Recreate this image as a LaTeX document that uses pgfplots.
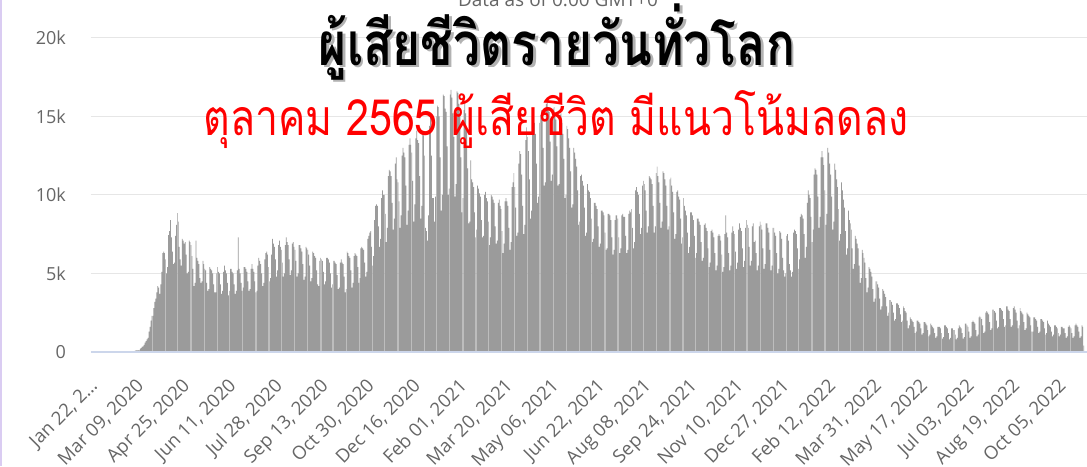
\documentclass[border=0pt]{standalone}
\usepackage{pgfplots}
\usepackage{pgfplotstable}
\pgfplotsset{compat=1.18}
\usepackage{fontspec}
\setmainfont{Open Sans}
\newfontfamily\thaifont[Script=Thai]{Loma}
\definecolor{barc}{RGB}{155,155,155}
\definecolor{tickc}{RGB}{102,102,102}
\definecolor{gridc}{RGB}{230,230,230}
\definecolor{basec}{RGB}{204,214,235}
\definecolor{edgec}{RGB}{218,204,242}
\pgfplotstableread[row sep=\\, header=false]{
17\\1\\8\\16\\14\\26\\30\\
20\\20\\25\\25\\25\\30\\30\\
30\\30\\30\\35\\35\\35\\35\\
40\\40\\40\\40\\35\\35\\40\\
40\\40\\40\\35\\35\\35\\35\\
35\\35\\35\\40\\40\\45\\55\\
90\\100\\110\\100\\120\\200\\250\\
330\\360\\450\\600\\700\\800\\900\\
1300\\1600\\2000\\2300\\2300\\2800\\3200\\
3400\\3800\\4200\\4100\\3700\\4300\\5100\\
6300\\6400\\6300\\5900\\5000\\5400\\7450\\
7700\\8400\\7300\\6400\\5600\\5700\\7400\\
8100\\8850\\8300\\6700\\5900\\5500\\7200\\
7100\\6900\\7000\\6200\\5000\\5100\\7100\\
7000\\6800\\6100\\5300\\4200\\4400\\7100\\
6000\\5800\\5600\\4700\\4400\\4500\\5800\\
5600\\5300\\5200\\4400\\3900\\4000\\5400\\
5300\\5200\\5000\\4300\\3800\\3800\\5000\\
5400\\5100\\5000\\4300\\3700\\3900\\5100\\
5500\\5200\\5000\\4400\\3600\\3900\\5300\\
5300\\5100\\5000\\4300\\3700\\3900\\5200\\
7300\\5300\\5000\\4400\\3900\\4100\\5400\\
5400\\5300\\5100\\4500\\3900\\4000\\5300\\
5600\\5300\\5100\\4500\\3800\\3900\\5500\\
6000\\5800\\5600\\5000\\4200\\4400\\5900\\
6300\\6400\\6200\\5400\\4500\\4700\\6200\\
7200\\6900\\6700\\5900\\4800\\5200\\6800\\
7100\\6700\\6500\\5700\\4800\\5000\\6800\\
7300\\7000\\6800\\5900\\4900\\5200\\6900\\
7000\\6700\\6500\\5800\\4800\\5000\\6800\\
6800\\6600\\6400\\5600\\4600\\4800\\6700\\
6600\\6500\\6200\\5500\\4500\\4700\\6400\\
6300\\6100\\6000\\5200\\4300\\4200\\5800\\
6000\\5900\\5800\\5100\\4300\\4500\\6000\\
6000\\5900\\5700\\5000\\4100\\4300\\5800\\
5800\\5700\\5600\\4900\\4000\\4100\\5700\\
5900\\5700\\5600\\4800\\3800\\4000\\6400\\
6300\\6100\\6000\\5200\\4100\\4400\\6100\\
6300\\6200\\6100\\5400\\4400\\4700\\6600\\
6700\\6600\\6500\\5700\\4800\\5100\\7200\\
7400\\7600\\7700\\6700\\5500\\6100\\8400\\
9300\\9400\\9300\\8000\\6700\\7200\\9800\\
10300\\10000\\10000\\8800\\7000\\7900\\11200\\
11600\\11500\\11200\\9500\\7800\\8500\\12000\\
12400\\11000\\10800\\9600\\7900\\8700\\12500\\
13000\\12700\\12400\\10600\\8100\\9000\\13200\\
13600\\13200\\12700\\10900\\8300\\9400\\13600\\
14100\\13500\\13300\\11200\\8500\\9300\\14000\\
13800\\12500\\7900\\7700\\7100\\8700\\14400\\
15000\\12500\\9800\\9800\\8300\\9900\\15000\\
15700\\15600\\15000\\12400\\9000\\10000\\16400\\
16300\\15500\\15300\\13100\\10000\\10400\\16400\\
16700\\16200\\15200\\13700\\9900\\10700\\16600\\
16500\\15800\\15000\\12400\\8900\\9800\\15400\\
16000\\15200\\14100\\11700\\8200\\8300\\12200\\
11000\\10800\\10500\\8900\\7300\\7800\\10600\\
10400\\10100\\9900\\8400\\7300\\7400\\10000\\
10200\\9800\\9600\\8300\\6800\\7300\\10000\\
9900\\9700\\9500\\8000\\6900\\7100\\9500\\
9700\\9300\\9100\\7700\\6300\\6900\\9600\\
9800\\9600\\9300\\7900\\6500\\7000\\10500\\
10800\\11400\\10500\\9200\\7400\\7600\\12000\\
12800\\12600\\11300\\9300\\7500\\8100\\13500\\
14300\\13700\\12800\\11000\\8500\\9000\\14000\\
14700\\14600\\13900\\12000\\9500\\9900\\14600\\
15100\\15400\\14900\\13000\\10600\\10800\\15800\\
15900\\15500\\15300\\13400\\10900\\11300\\15500\\
15600\\15200\\14800\\13100\\10600\\10700\\15100\\
15200\\14600\\13900\\12300\\9800\\10000\\14400\\
14200\\13600\\13000\\11500\\9200\\9400\\13000\\
12700\\12300\\11800\\10300\\8100\\8300\\11200\\
11300\\10900\\10600\\9200\\7400\\7600\\10700\\
10300\\10200\\9800\\8500\\7000\\7200\\9500\\
9500\\9300\\9100\\8000\\6700\\6900\\9000\\
9000\\8900\\8700\\7600\\6500\\6600\\8800\\
8800\\8700\\8400\\7300\\6200\\6500\\8400\\
8700\\8700\\8500\\7300\\6300\\6600\\8700\\
8800\\8600\\8600\\7400\\6300\\6500\\8800\\
9000\\8900\\9100\\7900\\6600\\7000\\10300\\
10500\\10200\\10000\\8800\\7500\\7900\\10600\\
10900\\10700\\10300\\9000\\7600\\8000\\11200\\
11100\\11000\\10700\\9300\\7600\\8000\\11400\\
11800\\11200\\10800\\9500\\7900\\8300\\11500\\
11400\\11000\\10600\\9300\\7800\\8000\\11000\\
11100\\10600\\10200\\8900\\7200\\7500\\10200\\
10300\\9900\\9700\\8500\\6900\\7300\\9800\\
9300\\9000\\8700\\7600\\6300\\6700\\8900\\
8900\\8700\\8400\\7400\\6000\\6300\\8500\\
8500\\8300\\8100\\7000\\5800\\6000\\8100\\
8200\\7900\\7700\\6600\\5400\\5700\\7700\\
7800\\7600\\7300\\6300\\5200\\5500\\7400\\
7500\\7400\\7100\\6200\\5100\\5400\\7500\\
8700\\7600\\7300\\6300\\5200\\5500\\7600\\
8000\\7700\\7500\\6400\\5300\\5700\\7800\\
8200\\7900\\7700\\6600\\5400\\5800\\7900\\
8400\\8100\\7900\\6700\\5500\\5800\\8000\\
8200\\7000\\7100\\6300\\5200\\5500\\8000\\
8300\\8100\\7800\\6600\\5300\\5600\\8200\\
8200\\7900\\7600\\6500\\5200\\5500\\7900\\
7900\\7600\\7400\\6300\\5000\\5300\\7700\\
7600\\7200\\6000\\5200\\4800\\5000\\7400\\
7500\\7100\\5600\\5200\\4800\\5100\\7600\\
7800\\7700\\7500\\6600\\5300\\5900\\8600\\
8800\\8700\\8500\\7500\\6000\\6700\\9500\\
10300\\10000\\9800\\8600\\7000\\7800\\11300\\
11700\\11600\\11300\\9900\\7900\\8600\\12400\\
12800\\12400\\11900\\10300\\8100\\8800\\13000\\
12700\\12000\\11300\\9900\\7800\\8300\\12000\\
11600\\11000\\10500\\9100\\7100\\7500\\10800\\
10300\\9700\\9200\\7700\\6200\\6600\\9000\\
8400\\8200\\7800\\6600\\5300\\5600\\7400\\
7200\\6900\\6600\\5500\\4400\\4700\\6500\\
6300\\6000\\5700\\4700\\3800\\4100\\5400\\
5300\\5100\\4800\\4000\\3200\\3400\\4500\\
4500\\4300\\4100\\3400\\2700\\2900\\4000\\
3900\\3700\\3500\\2900\\2300\\2500\\3300\\
3300\\3200\\3000\\2500\\2000\\2100\\3100\\
3100\\3000\\2800\\2400\\1900\\2000\\2900\\
2800\\2600\\2500\\2000\\1500\\1700\\2200\\
2100\\2000\\1900\\1600\\1200\\1300\\2000\\
2000\\1900\\1800\\1500\\1100\\1200\\1900\\
1900\\1800\\1700\\1400\\1000\\1100\\1800\\
1700\\1600\\1500\\1200\\900\\1000\\1600\\
1600\\1600\\1500\\1200\\850\\950\\1700\\
1700\\1600\\1500\\1200\\800\\900\\1500\\
1500\\1400\\1400\\1100\\800\\900\\1500\\
1700\\1600\\1500\\1200\\850\\950\\1800\\
1800\\1700\\1600\\1300\\900\\1000\\1900\\
2000\\1900\\1800\\1400\\1000\\1100\\2200\\
2300\\2200\\2100\\1700\\1200\\1300\\2500\\
2600\\2500\\2400\\1900\\1400\\1500\\2700\\
2700\\2600\\2500\\2000\\1500\\1600\\2800\\
2800\\2700\\2600\\2100\\1600\\1700\\2900\\
2900\\2700\\2600\\2100\\1600\\1700\\2800\\
2900\\2700\\2500\\2000\\1500\\1700\\2800\\
2600\\2500\\2400\\1900\\1400\\1500\\2500\\
2400\\2300\\2200\\1700\\1300\\1300\\2200\\
2200\\2100\\2000\\1600\\1200\\1300\\2100\\
2100\\2000\\1900\\1500\\1100\\1200\\2000\\
1800\\1700\\1600\\1300\\1000\\1100\\1700\\
1700\\1600\\1500\\1200\\1000\\1100\\1600\\
1600\\1500\\1500\\1200\\900\\1000\\1600\\
1700\\1600\\1500\\1200\\900\\1000\\1700\\
1800\\1700\\1600\\1300\\900\\1000\\1700\\
1600\\400\\
}\deaths
\begin{document}
\begin{tikzpicture}[x=1pt,y=1pt]
\path[use as bounding box] (0,0) rectangle (1087,466);
\fill[white] (0,0) rectangle (1087,466);
\fill[edgec] (0,0) rectangle (2,466);
\begin{axis}[
  at={(91pt,114pt)}, anchor=south west,
  scale only axis, width=996pt, height=352pt,
  xmin=-3.06, xmax=1012.2, ymin=0, ymax=22420,
  axis x line*=bottom, axis y line*=left,
  axis line style={draw=none},
  major tick length=0pt,
  ytick={0,5000,10000,15000,20000},
  yticklabels={0,5k,10k,15k,20k},
  ymajorgrids, grid style={gridc, line width=1pt},
  yticklabel style={font=\fontsize{18}{20}\selectfont, text=tickc, anchor=east, inner sep=0pt, xshift=-25pt},
  xtick={0,47,...,987},
  xticklabels={{Jan 22, 2…},{Mar 09, 2020},{Apr 25, 2020},{Jun 11, 2020},{Jul 28, 2020},{Sep 13, 2020},{Oct 30, 2020},{Dec 16, 2020},{Feb 01, 2021},{Mar 20, 2021},{May 06, 2021},{Jun 22, 2021},{Aug 08, 2021},{Sep 24, 2021},{Nov 10, 2021},{Dec 27, 2021},{Feb 12, 2022},{Mar 31, 2022},{May 17, 2022},{Jul 03, 2022},{Aug 19, 2022},{Oct 05, 2022}},
  xticklabel style={font=\fontsize{18.5}{22}\selectfont, text=tickc, anchor=north east, inner sep=0pt, yshift=-25pt, xshift=-5pt, rotate=45},
  clip=false,
]
\addplot[ybar, bar width=0.72, fill=barc, draw=none] table[x expr=\coordindex, y index=0] {\deaths};
\draw[basec, line width=1.2pt] (axis cs:-3.06,0) -- (axis cs:1012.2,0);
\end{axis}
\node[anchor=base, text=tickc, font=\fontsize{19}{22}\selectfont] at (558,459) {Data as of 0:00 GMT+0};
\node[text=black!30, xscale=0.8, font=\thaifont\bfseries\fontsize{60}{66}\selectfont] at (559.5,421.5) {ผู้เสียชีวิตรายวันทั่วโลก};
\node[text=black, xscale=0.8, font=\thaifont\bfseries\fontsize{60}{66}\selectfont] at (557,424) {ผู้เสียชีวิตรายวันทั่วโลก};
\node[text=red, xscale=0.82, font=\thaifont\fontsize{50}{56}\selectfont] at (556,346) {ตุลาคม 2565 ผู้เสียชีวิต มีแนวโน้มลดลง};
\end{tikzpicture}
\end{document}
